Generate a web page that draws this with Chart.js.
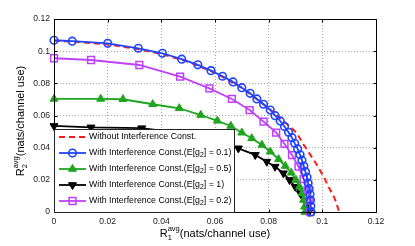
<!DOCTYPE html>
<html><head><meta charset="utf-8">
<script src="https://cdn.jsdelivr.net/npm/chart.js@4.4.0/dist/chart.umd.min.js"></script>
<style>html,body{margin:0;padding:0;background:#fff;}#wrap{width:415px;height:246px;}</style>
</head><body><div id="wrap"><canvas id="c" width="415" height="246"></canvas></div>
<script>
const tickValues = [0, 0.02, 0.04, 0.06, 0.08, 0.1, 0.12];
const tickLabels = ['0', '0.02', '0.04', '0.06', '0.08', '0.1', '0.12'];

const legendMain = 'With Interference Const.(E[g';
const seriesNames = ['Without Interference Const.', 'E=0.1', 'E=0.5', 'E=1', 'E=0.2'];
const legendValues = [null, '0.1', '0.5', '1', '0.2'];

const noIntX = [0, 0.01, 0.02, 0.03, 0.04, 0.05, 0.06, 0.07, 0.0816, 0.0849, 0.088, 0.0905, 0.093, 0.0955, 0.098, 0.1005, 0.1023, 0.1046, 0.1063];
const noIntY = [0.1065, 0.1056, 0.1042, 0.1016, 0.0983, 0.0934, 0.0866, 0.0772, 0.0624, 0.0572, 0.0531, 0.0490, 0.0420, 0.0357, 0.0292, 0.0220, 0.0157, 0.0085, 0];

const g01X = [0, 0.0068, 0.0200, 0.0314, 0.0404, 0.0476, 0.0536, 0.0585, 0.0628, 0.0667, 0.0700, 0.0731, 0.0756, 0.0781, 0.0806, 0.0824, 0.0843, 0.0859, 0.0874, 0.0887, 0.0897, 0.0908, 0.0917, 0.0924, 0.0931, 0.0937, 0.0943, 0.0947, 0.0951, 0.0954, 0.0956, 0.0957, 0.0958];
const g01Y = [0.1068, 0.1062, 0.1049, 0.1018, 0.0987, 0.0950, 0.0915, 0.0879, 0.0844, 0.0809, 0.0773, 0.0738, 0.0703, 0.0670, 0.0634, 0.0599, 0.0566, 0.0531, 0.0496, 0.0462, 0.0427, 0.0392, 0.0356, 0.0322, 0.0286, 0.0251, 0.0216, 0.0180, 0.0145, 0.0110, 0.0075, 0.0037, 0];

const g05X = [0, 0.0174, 0.0257, 0.0368, 0.0467, 0.0547, 0.0609, 0.0659, 0.0700, 0.0737, 0.0775, 0.0806, 0.0837, 0.0862, 0.0884, 0.0902, 0.0915, 0.0924, 0.0930, 0.0934, 0.0935];
const g05Y = [0.0703, 0.0703, 0.0701, 0.0670, 0.0645, 0.0603, 0.0567, 0.0535, 0.0493, 0.0458, 0.0417, 0.0375, 0.0328, 0.0286, 0.0244, 0.0199, 0.0157, 0.0116, 0.0075, 0.0033, 0];

const g1X = [0, 0.0138, 0.0327, 0.0450, 0.0550, 0.0620, 0.0687, 0.0750, 0.0793, 0.0824, 0.0855, 0.0878, 0.0899, 0.0918, 0.0933, 0.0943, 0.0949, 0.0950];
const g1Y = [0.0535, 0.0526, 0.0521, 0.0495, 0.0458, 0.0425, 0.0396, 0.0355, 0.0313, 0.0282, 0.0241, 0.0199, 0.0157, 0.0116, 0.0075, 0.0044, 0.0012, 0];

const g02X = [0, 0.0138, 0.0318, 0.0470, 0.0579, 0.0663, 0.0729, 0.0781, 0.0828, 0.0859, 0.0887, 0.0911, 0.0930, 0.0945, 0.0952, 0.0955];
const g02Y = [0.0956, 0.0945, 0.0914, 0.0842, 0.0769, 0.0703, 0.0634, 0.0562, 0.0494, 0.0423, 0.0354, 0.0282, 0.0205, 0.0137, 0.0070, 0];

const pts = (xs, ys) => xs.map((v, i) => ({x: v, y: ys[i]}));
const FONT = "'Liberation Sans', Arial, Helvetica, sans-serif";

const RED = '#ff1a1a', BLUE = '#1f44ff', GREEN = '#1ea51e', BLACK = '#000000', PURPLE = '#bf40ff';

const datasets = [
  {label: seriesNames[0], data: pts(noIntX, noIntY), borderColor: RED, borderWidth: 2, borderDash: [6, 4], pointRadius: 0, order: 5},
  {label: seriesNames[1], data: pts(g01X, g01Y), borderColor: BLUE, borderWidth: 1.8, pointStyle: 'circle', pointRadius: 3.8, pointBorderWidth: 1.6, pointBorderColor: BLUE, pointBackgroundColor: 'rgba(0,0,0,0)', order: 1},
  {label: seriesNames[2], data: pts(g05X, g05Y), borderColor: GREEN, borderWidth: 1.8, pointStyle: 'triangle', pointRadius: 4.6, pointBorderWidth: 1, pointBorderColor: GREEN, pointBackgroundColor: GREEN, order: 3},
  {label: seriesNames[3], data: pts(g1X, g1Y), borderColor: BLACK, borderWidth: 1.8, pointStyle: 'triangle', rotation: 180, pointRotation: 180, pointRadius: 4.6, pointBorderWidth: 1, pointBorderColor: BLACK, pointBackgroundColor: BLACK, order: 4},
  {label: seriesNames[4], data: pts(g02X, g02Y), borderColor: PURPLE, borderWidth: 1.8, pointStyle: 'rect', pointRadius: 4.8, pointBorderWidth: 1.5, pointBorderColor: PURPLE, pointBackgroundColor: 'rgba(0,0,0,0)', order: 2}
];
datasets.forEach(d => { d.fill = false; d.tension = 0; d.clip = false; d.showLine = true; });

function drawMarker(ctx, ds, x, y) {
  const r = ds.pointRadius || 0;
  if (!r) return;
  ctx.save();
  ctx.lineWidth = ds.pointBorderWidth;
  ctx.strokeStyle = ds.pointBorderColor;
  ctx.fillStyle = ds.pointBackgroundColor;
  ctx.setLineDash([]);
  ctx.beginPath();
  if (ds.pointStyle === 'circle') {
    ctx.arc(x, y, r, 0, Math.PI * 2);
  } else if (ds.pointStyle === 'rect') {
    const s = Math.SQRT1_2 * r;
    ctx.rect(x - s, y - s, 2 * s, 2 * s);
  } else if (ds.pointStyle === 'triangle') {
    const rot = (ds.pointRotation || 0) * Math.PI / 180;
    for (let k = 0; k < 3; k++) {
      const a = rot - Math.PI / 2 + k * 2 * Math.PI / 3;
      const px = x + Math.cos(a) * r, py = y + Math.sin(a) * r;
      if (k === 0) ctx.moveTo(px, py); else ctx.lineTo(px, py);
    }
    ctx.closePath();
  }
  ctx.fill();
  ctx.stroke();
  ctx.restore();
}

function drawRich(ctx, parts, x, y, align) {
  const widths = parts.map(p => {
    ctx.font = p.size + 'px ' + FONT;
    if (p.stack) return Math.max(...p.stack.map(s => ctx.measureText(s.t).width));
    return ctx.measureText(p.t).width;
  });
  const total = widths.reduce((a, b) => a + b, 0);
  let cx = align === 'center' ? x - total / 2 : x;
  parts.forEach((p, i) => {
    ctx.font = p.size + 'px ' + FONT;
    if (p.stack) {
      p.stack.forEach(s => ctx.fillText(s.t, cx, y + s.dy));
    } else {
      ctx.fillText(p.t, cx, y + (p.dy || 0));
    }
    cx += widths[i];
  });
}

const deco = {
  id: 'deco',
  afterDatasetsDraw(chart) {
    const {ctx, chartArea: a, scales: {x, y}} = chart;
    ctx.save();
    ctx.strokeStyle = '#000';
    ctx.lineWidth = 1;
    ctx.setLineDash([]);
    const L = Math.round(a.left) + 0.5, R = Math.round(a.right) + 0.5, T = Math.round(a.top) + 0.5, B = Math.round(a.bottom) + 0.5;
    ctx.strokeRect(L, T, R - L, B - T);
    ctx.beginPath();
    tickValues.forEach(v => {
      const px = Math.round(x.getPixelForValue(v)) + 0.5;
      ctx.moveTo(px, B); ctx.lineTo(px, B - 3);
      ctx.moveTo(px, T); ctx.lineTo(px, T + 3);
      const py = Math.round(y.getPixelForValue(v)) + 0.5;
      ctx.moveTo(L, py); ctx.lineTo(L + 3, py);
      ctx.moveTo(R, py); ctx.lineTo(R - 3, py);
    });
    ctx.stroke();

    // legend
    const lx = L, ly = 129.5, lw = 180, lh = B - ly;
    ctx.fillStyle = '#fff';
    ctx.fillRect(lx, ly, lw, lh);
    ctx.strokeStyle = '#222';
    ctx.strokeRect(lx, ly, lw, lh);
    datasets.forEach((ds, i) => {
      const yy = 137 + 16 * i;
      ctx.save();
      ctx.strokeStyle = ds.borderColor;
      ctx.lineWidth = ds.borderWidth;
      ctx.setLineDash(ds.borderDash || []);
      ctx.beginPath();
      ctx.moveTo(59, yy); ctx.lineTo(86, yy);
      ctx.stroke();
      ctx.restore();
      drawMarker(ctx, ds, 72.5, yy);
      ctx.fillStyle = '#000';
      ctx.textBaseline = 'middle';
      ctx.textAlign = 'left';
      if (i === 0) {
        ctx.font = '8.8px ' + FONT;
        ctx.fillText(ds.label, 89, yy);
      } else {
        drawRich(ctx, [
          {t: legendMain, size: 8.8},
          {t: '2', size: 6.8, dy: 2.5},
          {t: '] = ' + legendValues[i] + ')', size: 8.8}
        ], 89, yy, 'left');
      }
    });
    ctx.restore();
  },
  afterDraw(chart) {
    const {ctx} = chart;
    ctx.save();
    ctx.fillStyle = '#000';
    ctx.textBaseline = 'alphabetic';
    ctx.textAlign = 'left';
    drawRich(ctx, [
      {t: 'R', size: 11},
      {stack: [{t: '1', dy: 3}, {t: 'avg', dy: -6}], size: 7.5},
      {t: '(nats/channel use)', size: 11}
    ], 215, 237, 'center');
    ctx.translate(24, 121);
    ctx.rotate(-Math.PI / 2);
    drawRich(ctx, [
      {t: 'R', size: 11},
      {stack: [{t: '2', dy: 3}, {t: 'avg', dy: -6}], size: 7.5},
      {t: '(nats/channel use)', size: 11}
    ], 0, 0, 'center');
    ctx.restore();
  }
};

const tickFont = {family: FONT, size: 8.6};
const fmt = v => { const i = tickValues.findIndex(t => Math.abs(t - v) < 1e-9); return i >= 0 ? tickLabels[i] : ''; };

new Chart(document.getElementById('c'), {
  type: 'line',
  data: {datasets},
  options: {
    responsive: false,
    animation: false,
    devicePixelRatio: 1,
    layout: {padding: {left: 0, top: 19, right: 39, bottom: 0}},
    plugins: {legend: {display: false}, tooltip: {enabled: false}, title: {display: false}},
    scales: {
      x: {
        type: 'linear', min: 0, max: 0.12,
        afterBuildTicks: s => { s.ticks = tickValues.map(v => ({value: v})); },
        afterFit: s => { s.height = 34; },
        ticks: {callback: fmt, font: tickFont, color: '#222', padding: 4, maxRotation: 0, autoSkip: false},
        grid: {color: '#a8a8a8', lineWidth: 1, drawTicks: false},
        border: {display: false, dash: [1, 2]}
      },
      y: {
        type: 'linear', min: 0, max: 0.12,
        afterBuildTicks: s => { s.ticks = tickValues.map(v => ({value: v})); },
        afterFit: s => { s.width = 54; },
        ticks: {callback: fmt, font: tickFont, color: '#222', padding: 4, autoSkip: false},
        grid: {color: '#a8a8a8', lineWidth: 1, drawTicks: false},
        border: {display: false, dash: [1, 2]}
      }
    }
  },
  plugins: [deco]
});
</script></body></html>
